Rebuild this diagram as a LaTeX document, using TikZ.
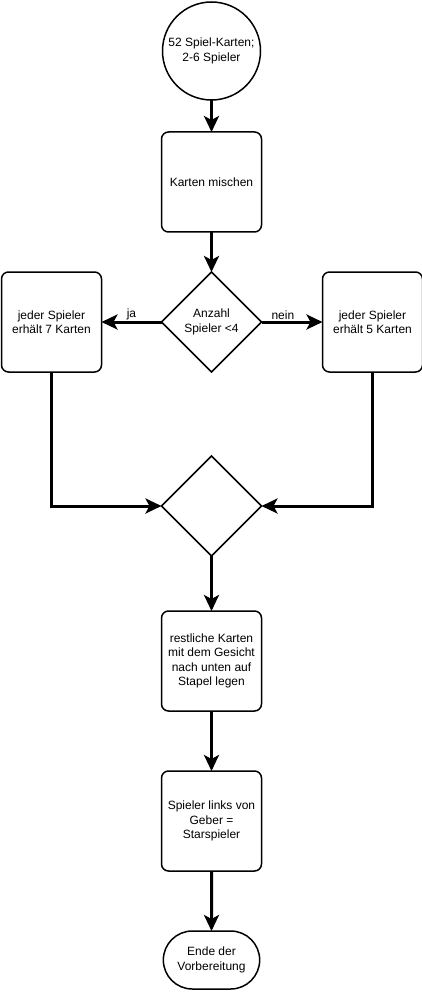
\documentclass[tikz,border=0pt]{standalone}
\usepackage{fontspec}
\setmainfont{Liberation Sans}
\usetikzlibrary{positioning, shapes.geometric, shapes.misc, arrows.meta}
\tikzset{
    >={Stealth[length=16pt, width=15pt, inset=4pt]}, % filled arrow heads
    every node/.style={font=\fontsize{12pt}{14.5pt}\selectfont, align=center, outer sep=0pt},
    process/.style={draw, line width=1.5pt, rounded corners=7pt, minimum width=100pt, minimum height=100pt, inner sep=2pt}, % rounded boxes
    decision/.style={draw, diamond, aspect=1, line width=1.5pt, minimum width=100pt, minimum height=100pt, inner sep=1pt},
    source/.style={draw, circle, line width=1.5pt, minimum size=98pt, inner sep=0pt},
    terminal/.style={draw, rounded rectangle, line width=1.5pt, minimum width=103pt, minimum height=58pt},
    flow/.style={->, line width=3pt}, % thick connectors
}

\begin{document}
\begin{tikzpicture}[x=1pt, y=-1pt]
        \useasboundingbox (0,0) rectangle (422,992);

        \node[source] (start) at (211.5,51) {52 Spiel-Karten;\\2-6 Spieler};
        \node[process, below=32pt of start] (mix) {Karten mischen};
        \node[decision, below=40pt of mix] (count) {Anzahl\\Spieler <4};
        \node[process, left=60pt of count] (seven) {jeder Spieler\\erhält 7 Karten};
        \node[process, right=61pt of count] (five) {jeder Spieler\\erhält 5 Karten};
        \node[decision, below=84pt of count] (join) {};
        \node[process, below=55pt of join] (stack) {restliche Karten\\mit dem Gesicht\\nach unten auf\\Stapel legen};
        \node[process, below=60pt of stack] (first) {Spieler links von\\Geber =\\Starspieler};
        \node[terminal, below=60pt of first] (finish) {Ende der\\Vorbereitung};

        \draw[flow] (start) edge (mix)
                    (mix) edge (count)
                    (count) edge node[above, inner sep=2pt]{ja} (seven)
                    (count) edge node[above, inner sep=2pt, pos=0.35]{nein} (five)
                    (join) edge (stack)
                    (stack) edge (first)
                    (first) edge (finish);
        \draw[flow] (seven.south) |- (join.west);
        \draw[flow] (five.south) |- (join.east);
    \end{tikzpicture}
\end{document}
